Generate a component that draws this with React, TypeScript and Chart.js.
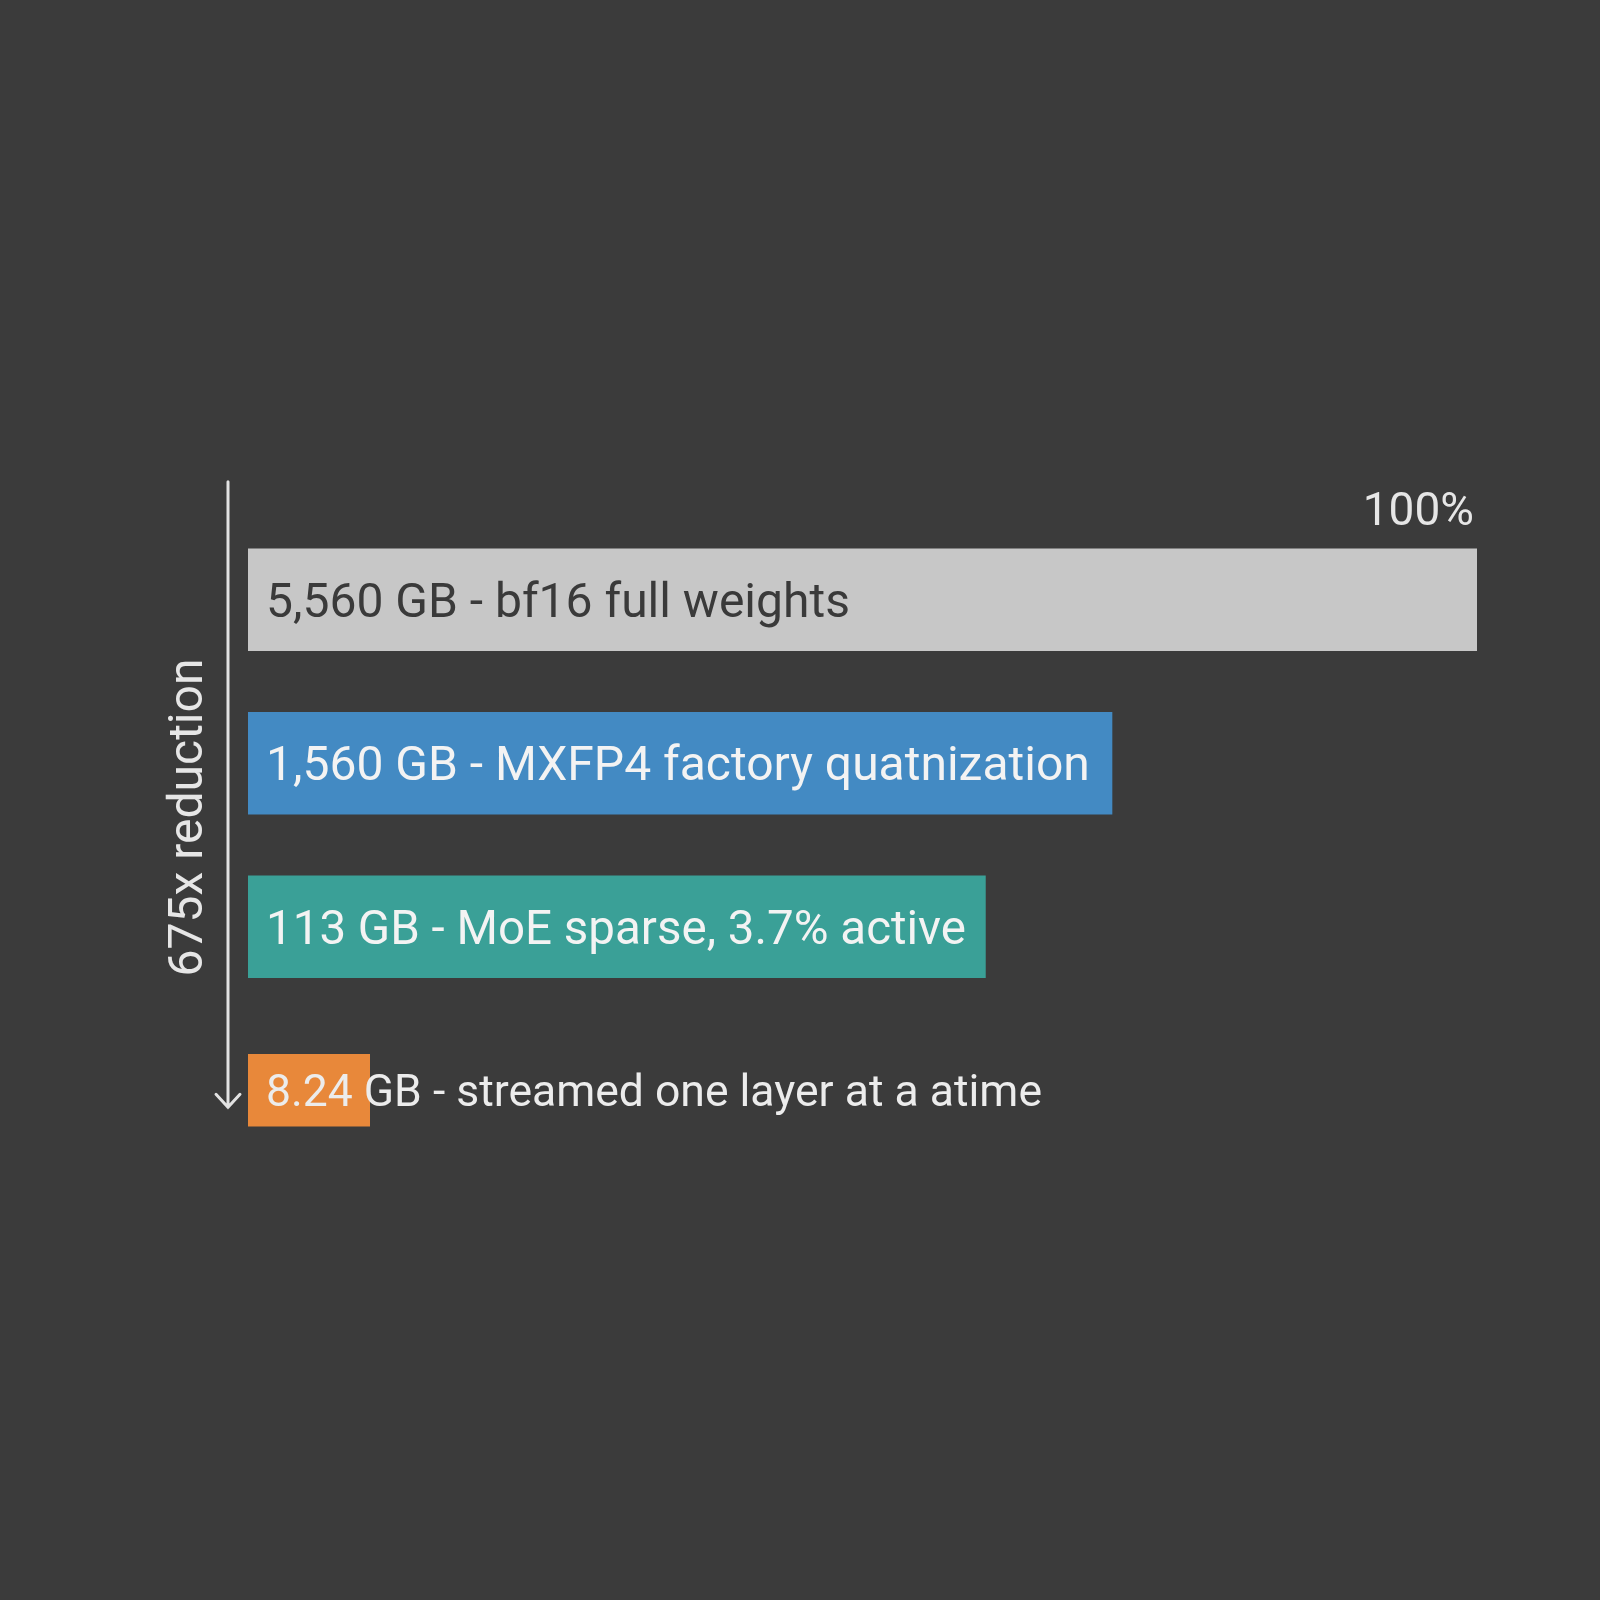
import React, { useEffect, useRef } from "react";
import { Chart, registerables } from "chart.js";

Chart.register(...registerables);

const categories = ["bf16", "MXFP4", "MoE", "streamed"];
const gbLabels = ["5,560 GB", "1,560 GB", "113 GB", "8.24 GB"];
const descriptions = [
  "bf16 full weights",
  "MXFP4 factory quatnization",
  "MoE sparse, 3.7% active",
  "streamed one layer at a atime",
];
// bar length as drawn, percent of the full bf16 bar
const barLengths = [100, 70.3, 60.0, 9.9];
const barColors = ["#c7c7c7", "#438ac3", "#3aa097", "#e8883a"];
const labelColors = ["#3a3a3a", "#f3f3f3", "#f3f3f3", "#ececec"];
const labelSizes = [48, 48, 47.5, 44.5];
const topLabel = "100%";
const sideLabel = "675x reduction";

const BG = "#3b3b3b";
const FONT = "Roboto, 'DejaVu Sans', sans-serif";

const overlayPlugin = {
  id: "overlay",
  beforeDraw(chart: any) {
    const { ctx, width, height } = chart;
    ctx.save();
    ctx.fillStyle = BG;
    ctx.fillRect(0, 0, width, height);
    ctx.restore();
  },
  afterDatasetsDraw(chart: any) {
    const { ctx, chartArea } = chart;
    const xs = chart.scales.x;
    const ys = chart.scales.y;
    ctx.save();
    categories.forEach((_, i) => {
      const dsIndex = i === categories.length - 1 ? 1 : 0;
      const el = chart.getDatasetMeta(dsIndex).data[i];
      if (!el) return;
      const fs = labelSizes[i];
      ctx.font = `${fs}px ${FONT}`;
      ctx.fillStyle = labelColors[i];
      ctx.textAlign = "left";
      ctx.textBaseline = "alphabetic";
      ctx.fillText(`${gbLabels[i]} - ${descriptions[i]}`, xs.left + 18, el.y + fs * 0.355);
    });
    const firstBar = chart.getDatasetMeta(0).data[0];
    const topOfFirst = firstBar.y - firstBar.height / 2;
    ctx.font = `46px ${FONT}`;
    ctx.fillStyle = "#e6e6e6";
    ctx.textAlign = "right";
    ctx.fillText(topLabel, xs.getPixelForValue(100) - 3, topOfFirst - 24);

    const ax = chartArea.left - 20;
    const aTop = ys.getPixelForValue(0) - 118;
    const lastBar = chart.getDatasetMeta(1).data[categories.length - 1];
    const aBot = lastBar.y + 17;
    ctx.strokeStyle = "#e2e2e2";
    ctx.lineWidth = 3;
    ctx.lineCap = "round";
    ctx.beginPath();
    ctx.moveTo(ax, aTop);
    ctx.lineTo(ax, aBot);
    ctx.moveTo(ax - 12, aBot - 13);
    ctx.lineTo(ax, aBot);
    ctx.lineTo(ax + 12, aBot - 13);
    ctx.stroke();

    ctx.translate(ax - 26, (aTop + aBot) / 2 + 23);
    ctx.rotate(-Math.PI / 2);
    ctx.font = `48px ${FONT}`;
    ctx.fillStyle = "#e6e6e6";
    ctx.textAlign = "center";
    ctx.textBaseline = "alphabetic";
    ctx.fillText(sideLabel, 0, 0);
    ctx.restore();
  },
};

export default function App() {
  const ref = useRef<HTMLCanvasElement | null>(null);
  useEffect(() => {
    document.body.style.margin = "0";
    document.body.style.background = BG;
    const canvas = ref.current;
    if (!canvas) return;
    const n = categories.length;
    const chart = new Chart(canvas, {
      type: "bar",
      data: {
        labels: categories,
        datasets: [
          {
            data: barLengths.map((v, i) => (i < n - 1 ? v : null)),
            backgroundColor: barColors,
            borderWidth: 0,
            barThickness: 102,
            grouped: false,
          } as any,
          {
            data: barLengths.map((v, i) => (i === n - 1 ? v : null)),
            backgroundColor: barColors,
            borderWidth: 0,
            barThickness: 72,
            grouped: false,
          } as any,
        ],
      },
      options: {
        indexAxis: "y",
        responsive: false,
        animation: false,
        devicePixelRatio: 1,
        layout: { padding: { left: 248, right: 123, top: 518, bottom: 428 } },
        plugins: { legend: { display: false }, tooltip: { enabled: false } },
        scales: {
          x: { display: false, min: 0, max: 100 },
          y: { display: false, offset: true },
        },
      },
      plugins: [overlayPlugin],
    });
    return () => chart.destroy();
  }, []);
  return <canvas ref={ref} width={1600} height={1600} style={{ display: "block", width: 1600, height: 1600 }} />;
}
